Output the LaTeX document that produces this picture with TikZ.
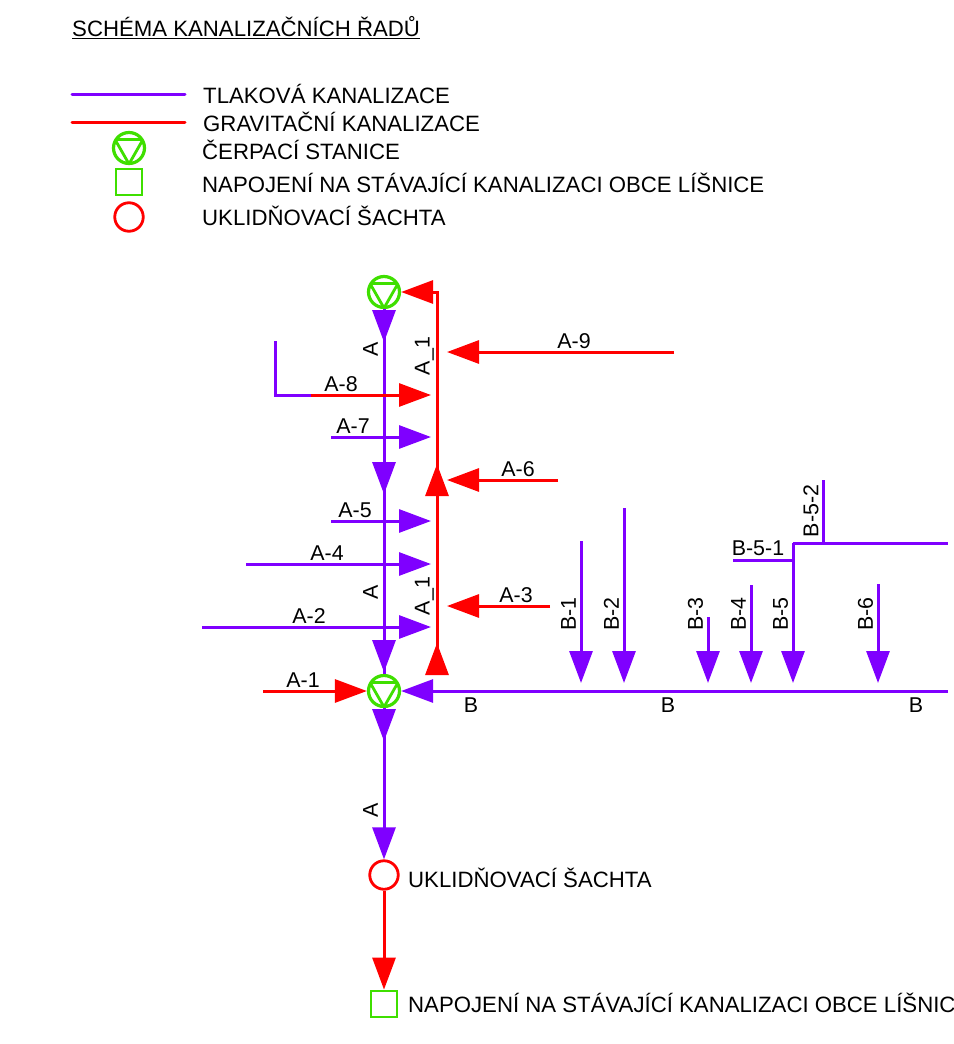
\documentclass[tikz,border=0pt]{standalone}
\usepackage{fontspec}
\setmainfont{Liberation Sans}
\usetikzlibrary{arrows.meta,decorations.markings,calc}
\definecolor{tlakcol}{RGB}{127,0,255}
\definecolor{gravcol}{RGB}{255,0,0}
\definecolor{pumpcol}{RGB}{63,223,0}
\tikzset{
    flowtip/.tip={Triangle[length=32pt,width=23pt]},
    tlak/.style={color=tlakcol, line width=3pt},
    grav/.style={color=gravcol, line width=3pt},
    headat/.style={postaction={decorate, decoration={markings, mark=at position #1 with {\arrow{flowtip}}}}},
    pump/.style={circle, draw=pumpcol, line width=3.2pt, minimum size=31pt, inner sep=0pt, outer sep=1.6pt,
        path picture={\draw[pumpcol, line width=2.8pt, line join=round]
            ($(path picture bounding box.center)+(-14,-8.5)$) -- ($(path picture bounding box.center)+(14,-8.5)$)
            -- ($(path picture bounding box.center)+(0,16)$) -- cycle;}},
    shaft/.style={circle, draw=gravcol, line width=2.8pt, minimum size=28.5pt, inner sep=0pt, outer sep=1.4pt},
    outlet/.style={rectangle, draw=pumpcol, line width=2.8pt, minimum size=26pt, inner sep=0pt, outer sep=1.4pt},
    txt/.style={font=\fontsize{22.2pt}{24pt}\selectfont, inner sep=0pt, text=black},
    lab/.style={txt, font=\fontsize{21.4pt}{24pt}\selectfont},
}
\begin{document}
\begin{tikzpicture}[x=1pt, y=-1pt]
        \clip (0,0) rectangle (953,1044);
        \fill[white] (0,0) rectangle (953,1044);
        % title and legend
        \node[txt, anchor=west] (title) at (72,28) {\underline{SCHÉMA KANALIZAČNÍCH ŘADŮ}};
        \coordinate (legA) at (72,94);
        \coordinate (legB) at (185,94);
        \coordinate (legC) at (72,122);
        \coordinate (legD) at (185,122);
        \draw[tlak, line cap=round] (legA) -- (legB);
        \draw[grav, line cap=round] (legC) -- (legD);
        \node[pump] (legpump) at (129,148) {};
        \node[outlet] (legout) at (129,182) {};
        \node[shaft] (legshaft) at (129,217) {};
        \node[txt, anchor=west] (t1) at (203,94) {TLAKOVÁ KANALIZACE};
        \node[txt, anchor=west] (t2) at (203,122) {GRAVITAČNÍ KANALIZACE};
        \node[txt, anchor=west] (t3) at (202,150) {ČERPACÍ STANICE};
        \node[txt, anchor=west] (t4) at (202,183) {NAPOJENÍ NA STÁVAJÍCÍ KANALIZACI OBCE LÍŠNICE};
        \node[txt, anchor=west] (t5) at (202,216) {UKLIDŇOVACÍ ŠACHTA};
        % main nodes
        \node[pump] (pumpT) at (384,292) {};
        \node[pump] (pumpB) at (384,691) {};
        \node[shaft] (shaft) at (384,875) {};
        \node[outlet] (out) at (384,1004) {};
        \node[txt, anchor=west] (shafttxt) at (408,878) {UKLIDŇOVACÍ ŠACHTA};
        \node[txt, anchor=west] (outtxt) at (408,1003) {NAPOJENÍ NA STÁVAJÍCÍ KANALIZACI OBCE LÍŠNICE};
        % trunk A and riser A_1
        \draw[tlak, headat=33pt, headat=185pt, headat=363pt] (pumpT.south) -- (pumpB.north);
        \draw[tlak, headat=33pt, -{flowtip}] (pumpB.south) -- (shaft.north);
        \draw[grav, -{flowtip}] (shaft.south) -- (out.north);
        \coordinate (riserB) at (437,673);
        \coordinate (riserT) at (437,292);
        \draw[grav, headat=30pt, headat=209pt, -{flowtip}] (riserB) -- (riserT) -- (pumpT.east);
        \foreach \lname/\ly in {aT/349, aM/592, aB/810}
            \node[lab, rotate=90] (\lname) at (370.5,\ly) {A};
        \node[lab, rotate=90] (a1T) at (424.5,356) {A\_1};
        \node[lab, rotate=90] (a1B) at (424.5,596) {A\_1};
        % branches into the riser from the right
        \foreach \name/\xs/\yy/\lx in {A-9/674/352/574, A-6/558/480/518, A-3/550/606/516}{
            \coordinate (\name s) at (\xs,\yy);
            \coordinate (\name e) at (447,\yy);
            \draw[grav, -{flowtip}] (\name s) -- (\name e);
            \node[lab] (l\name) at (\lx,\yy-11) {\name};
        }
        % branches from the left
        \foreach \name/\xs/\yy/\lx in {A-7/331/437/353, A-5/331/521/355, A-4/246/564/327, A-2/202/627/309}{
            \coordinate (\name s) at (\xs,\yy);
            \coordinate (\name e) at (431,\yy);
            \draw[tlak, -{flowtip}] (\name s) -- (\name e);
            \node[lab] (l\name) at (\lx,\yy-11) {\name};
        }
        \coordinate (a8t) at (275,341);
        \coordinate (a8m) at (311,395);
        \coordinate (a8e) at (431,395);
        \draw[tlak] (a8t) |- (a8m);
        \draw[grav, -{flowtip}] (a8m) -- (a8e);
        \node[lab] (lA-8) at (341,384) {A-8};
        \coordinate (a1s) at (263,691);
        \draw[grav, -{flowtip}] (a1s) -- (pumpB.west);
        \node[lab] (lA-1) at (303,680) {A-1};
        % line B
        \coordinate (bE) at (948,691);
        \draw[tlak, -{flowtip}] (bE) -- (pumpB.east);
        \foreach \lname/\lx in {bA/471, bB/668, bC/916}
            \node[lab] (\lname) at (\lx,705) {B};
        \foreach \name/\xx/\yt in {B-1/581/541, B-2/624/508, B-3/708/617, B-4/751/585, B-5/793/543, B-6/878/584}{
            \coordinate (\name s) at (\xx,\yt);
            \coordinate (\name e) at (\xx,683);
            \draw[tlak, -{flowtip}] (\name s) -- (\name e);
            \node[lab, rotate=90] (l\name) at (\xx-12.5,614) {\name};
        }
        \coordinate (b5E) at (948,543);
        \coordinate (b51s) at (733,560);
        \coordinate (b51e) at (793,560);
        \coordinate (b52s) at (823,480);
        \coordinate (b52e) at (823,543);
        \draw[tlak] (B-5s) -- (b5E);
        \draw[tlak] (b51s) -- (b51e);
        \draw[tlak] (b52s) -- (b52e);
        \node[lab] (lb51) at (758,548) {B-5-1};
        \node[lab, rotate=90] (lb52) at (811,511) {B-5-2};
    \end{tikzpicture}
\end{document}
